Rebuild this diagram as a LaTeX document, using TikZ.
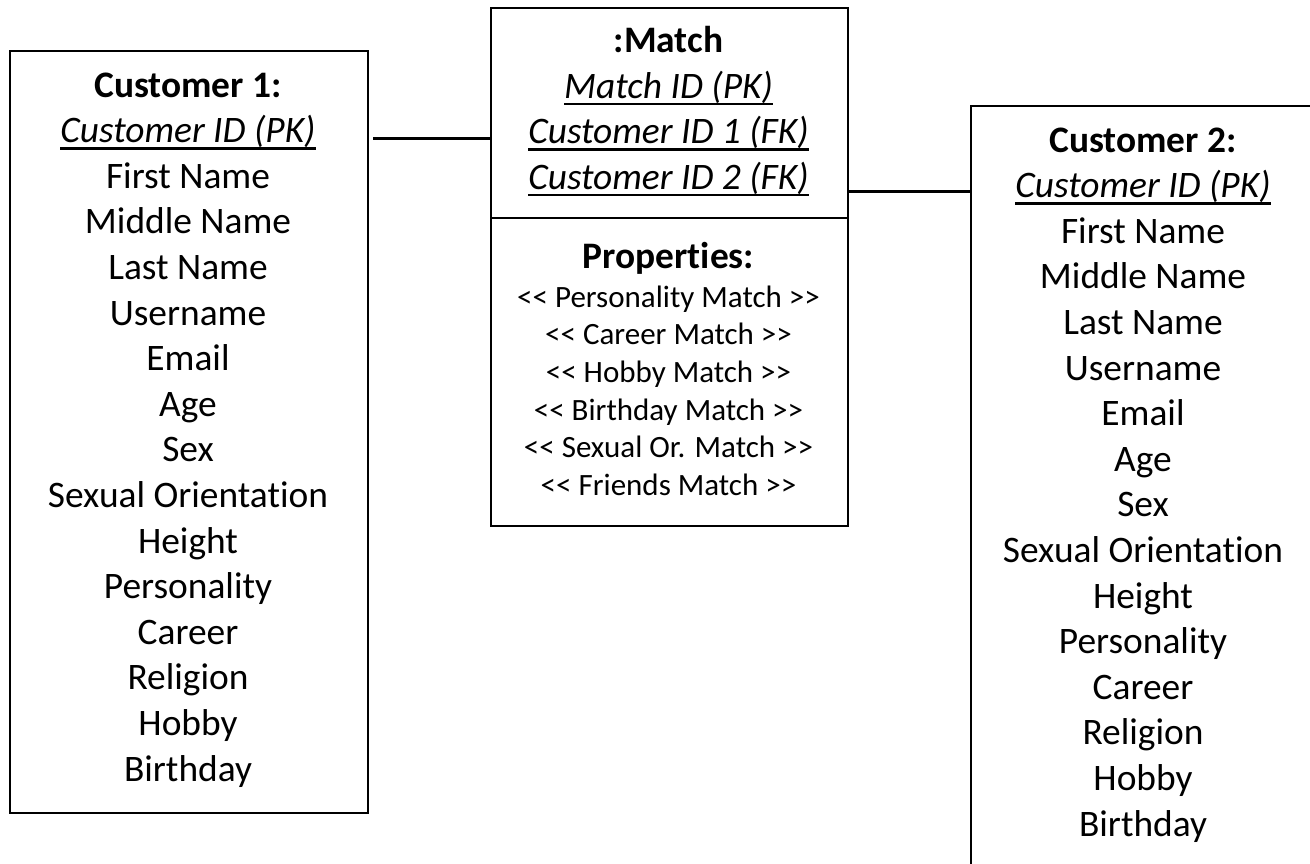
\documentclass[tikz,border=0pt]{standalone}
\usepackage{fontspec}
\setmainfont{Carlito}[Ligatures={NoCommon}]
% underline drawn just below the baseline, as word processors do
\newcommand\keyul[1]{\setbox0\hbox{#1}\rlap{\rule[-7pt]{\wd0}{2.6pt}}\box0}
% plain double angle brackets (kept apart so they stay two characters)
\newcommand\ltlt{<\kern0pt<}
\newcommand\gtgt{>\kern0pt>}
\begin{document}
\begin{tikzpicture}[x=1pt,y=-1pt,
  frame/.style={draw=black, line width=2pt, inner sep=0pt, anchor=north west},
  link/.style={draw=black, line width=3pt},
  big/.style={font=\fontsize{37.4}{45.6}\selectfont, inner sep=0pt, anchor=base},
  bighead/.style={big, font=\fontsize{37.4}{45.6}\selectfont\bfseries},
  small/.style={font=\fontsize{31}{37.7}\selectfont, inner sep=0pt, anchor=base},
]
\useasboundingbox (0,0) rectangle (1310,863);
\clip (0,0) rectangle (1310,863);

% entity boxes
\node[frame, minimum width=358pt, minimum height=762pt] (cust1) at (9,50) {};
\node[frame, minimum width=357pt, minimum height=518pt] (match) at (490,7) {};
\node[frame, minimum width=420pt, minimum height=820pt] (cust2) at (970,105) {};
\draw[line width=2pt] (match.west |- 0,218) -- (match.east |- 0,218);

% relationship lines
\draw[link, shorten <=4pt] (cust1.east |- 0,138) -- (match.west |- 0,138);
\draw[link] (match.east |- 0,191) -- (cust2.west |- 0,191);

% Customer 1
\node[bighead] (c1h) at (188,97) {Customer 1:};
\node[big] (c1k) at (188,142.6) {\keyul{\itshape Customer ID (PK)}};
\foreach \t [count=\i from 2] in {First Name, Middle Name, Last Name, Username,
    Email, Age, Sex, Sexual Orientation, Height, Personality, Career,
    Religion, Hobby, Birthday}
  \node[big] (c1a\i) at (188,97+45.6*\i) {\t};

% Customer 2
\node[bighead] (c2h) at (1143,152) {Customer 2:};
\node[big] (c2k) at (1143,197.6) {\keyul{\itshape Customer ID (PK)}};
\foreach \t [count=\i from 2] in {First Name, Middle Name, Last Name, Username,
    Email, Age, Sex, Sexual Orientation, Height, Personality, Career,
    Religion, Hobby, Birthday}
  \node[big] (c2a\i) at (1143,152+45.6*\i) {\t};

% Match
\node[bighead] (mh) at (668.5,52.5) {:Match};
\node[big] (mk0) at (668.5,98.1) {\keyul{\itshape Match ID (PK)}};
\node[big] (mk1) at (668.5,143.7) {\keyul{\itshape Customer ID 1 (FK)}};
\node[big] (mk2) at (668.5,189.3) {\keyul{\itshape Customer ID 2 (FK)}};
\node[bighead] (mp) at (668.5,268) {Properties:};
\foreach \t [count=\i from 0] in {Personality, Career, Hobby, Birthday,
    Sexual Or., Friends}
  \node[small] (mp\i) at (668.5,307+37.7*\i) {\ltlt{} \t{} Match \gtgt};
\end{tikzpicture}
\end{document}
